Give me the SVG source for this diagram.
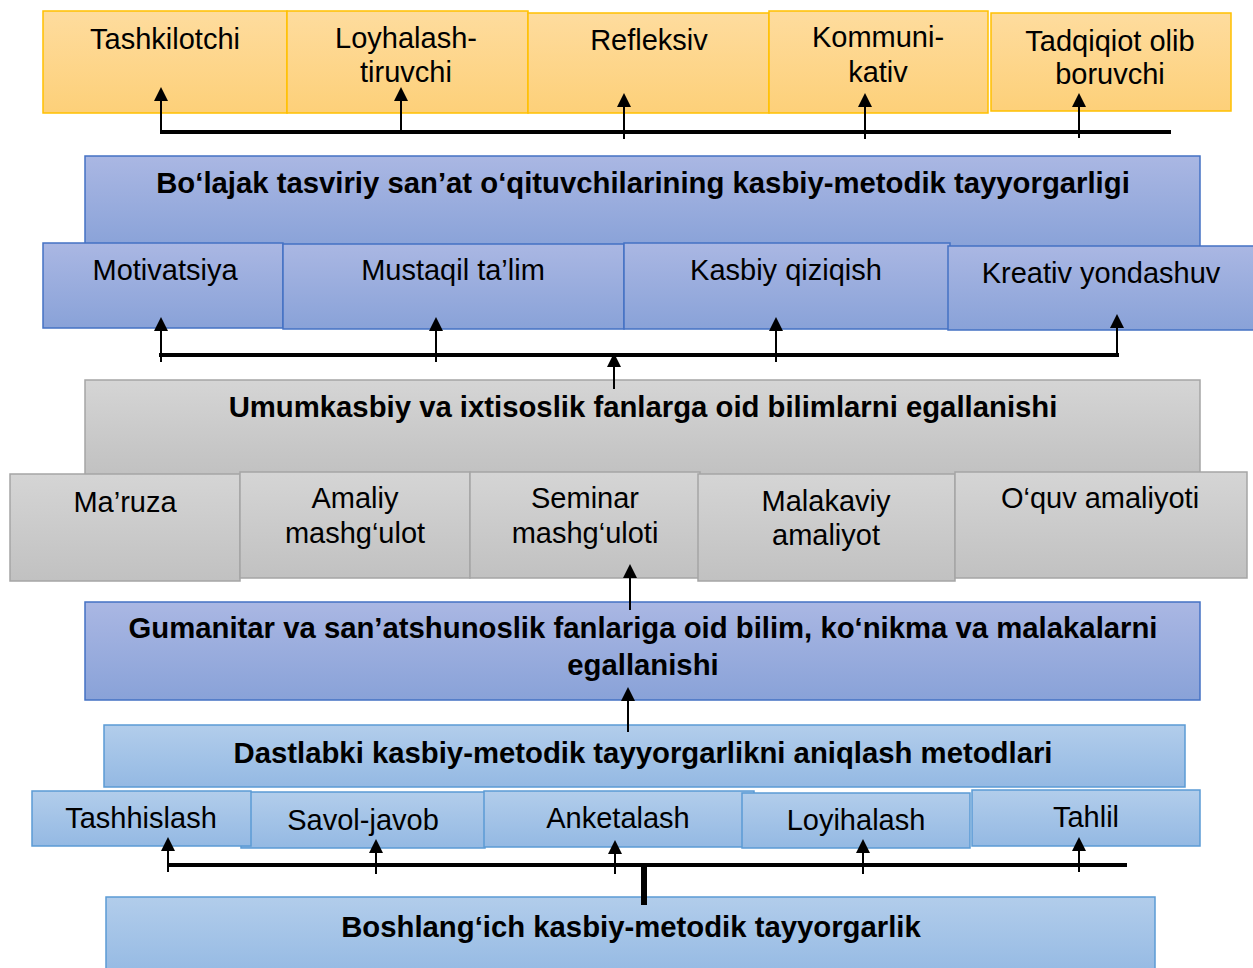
<svg xmlns="http://www.w3.org/2000/svg" width="1253" height="968" viewBox="0 0 1253 968">
<defs>
<linearGradient id="gOr" x1="0" y1="0" x2="0" y2="1"><stop offset="0" stop-color="#FEDC9E"/><stop offset="1" stop-color="#FDD079"/></linearGradient>
<linearGradient id="gBl" x1="0" y1="0" x2="0" y2="1"><stop offset="0" stop-color="#AAB7E3"/><stop offset="1" stop-color="#89A2D8"/></linearGradient>
<linearGradient id="gGr" x1="0" y1="0" x2="0" y2="1"><stop offset="0" stop-color="#D5D5D5"/><stop offset="1" stop-color="#C1C1C1"/></linearGradient>
<linearGradient id="gLb" x1="0" y1="0" x2="0" y2="1"><stop offset="0" stop-color="#B2CDEB"/><stop offset="1" stop-color="#94B9E3"/></linearGradient>
<marker id="ah" markerUnits="userSpaceOnUse" markerWidth="14" markerHeight="14" viewBox="0 0 14 14" refX="0" refY="7" orient="auto"><path d="M0,0 L14,7 L0,14 z" fill="#000"/></marker>
</defs>
<style>
.or{fill:url(#gOr);stroke:#FFC000;stroke-width:1.5}
.bl{fill:url(#gBl);stroke:#4472C4;stroke-width:1.5}
.gr{fill:url(#gGr);stroke:#A5A5A5;stroke-width:1.5}
.lb{fill:url(#gLb);stroke:#5B9BD5;stroke-width:1.5}
text{font-family:"Liberation Sans",Arial,sans-serif;font-size:29px;fill:#000;text-anchor:middle}
.b{font-weight:bold;font-size:29.3px}
.h{stroke:#000;stroke-width:4;fill:none}
.a{stroke:#000;stroke-width:2;fill:none;marker-end:url(#ah)}
</style>
<rect width="1253" height="968" fill="#fff"/>
<g id="n-tashkilotchi"><rect class="or" x="43" y="11" width="244" height="102"/><text x="165" y="49">Tashkilotchi</text></g>
<g id="n-loyhalash"><rect class="or" x="287" y="11" width="241" height="102"/><text x="406" y="48">Loyhalash-</text><text x="406" y="82">tiruvchi</text></g>
<g id="n-refleksiv"><rect class="or" x="528" y="13" width="241" height="100"/><text x="649" y="50">Refleksiv</text></g>
<g id="n-kommunikativ"><rect class="or" x="769" y="11" width="219" height="102"/><text x="878" y="47">Kommuni-</text><text x="878" y="82">kativ</text></g>
<g id="n-tadqiqiot"><rect class="or" x="991" y="13" width="240" height="98"/><text x="1110" y="51">Tadqiqiot olib</text><text x="1110" y="84">boruvchi</text></g>
<g id="n-bolajak"><rect class="bl" x="85" y="156" width="1115" height="92"/><text class="b" x="643" y="193">Bo‘lajak tasviriy san’at o‘qituvchilarining kasbiy-metodik tayyorgarligi</text></g>
<g id="n-motivatsiya"><rect class="bl" x="43" y="243" width="240" height="85"/><text x="165" y="280">Motivatsiya</text></g>
<g id="n-mustaqil"><rect class="bl" x="283" y="244" width="341" height="85"/><text x="453" y="280">Mustaqil ta’lim</text></g>
<g id="n-kasbiy"><rect class="bl" x="624" y="243" width="326" height="86"/><text x="786" y="280">Kasbiy qiziqish</text></g>
<g id="n-kreativ"><rect class="bl" x="948" y="246" width="312" height="84"/><text x="1101" y="283">Kreativ yondashuv</text></g>
<g id="n-umumkasbiy"><rect class="gr" x="85" y="380" width="1115" height="95"/><text class="b" x="643" y="417">Umumkasbiy va ixtisoslik fanlarga oid bilimlarni egallanishi</text></g>
<g id="n-maruza"><rect class="gr" x="10" y="474" width="230" height="107"/><text x="125" y="512">Ma’ruza</text></g>
<g id="n-amaliy"><rect class="gr" x="240" y="472" width="230" height="106"/><text x="355" y="508">Amaliy</text><text x="355" y="543">mashg‘ulot</text></g>
<g id="n-seminar"><rect class="gr" x="470" y="472" width="230" height="106"/><text x="585" y="508">Seminar</text><text x="585" y="543">mashg‘uloti</text></g>
<g id="n-malakaviy"><rect class="gr" x="698" y="474" width="257" height="107"/><text x="826" y="511">Malakaviy</text><text x="826" y="545">amaliyot</text></g>
<g id="n-oquv"><rect class="gr" x="955" y="472" width="292" height="106"/><text x="1100" y="508">O‘quv amaliyoti</text></g>
<g id="n-gumanitar"><rect class="bl" x="85" y="602" width="1115" height="98"/><text class="b" x="643" y="638">Gumanitar va san’atshunoslik fanlariga oid bilim, ko‘nikma va malakalarni</text><text class="b" x="643" y="675">egallanishi</text></g>
<g id="n-dastlabki"><rect class="lb" x="104" y="725" width="1081" height="62"/><text class="b" x="643" y="763">Dastlabki kasbiy-metodik tayyorgarlikni aniqlash metodlari</text></g>
<g id="n-savol"><rect class="lb" x="241" y="792" width="244" height="56"/><text x="363" y="830">Savol-javob</text></g>
<g id="n-tashhislash"><rect class="lb" x="32" y="791" width="219" height="55"/><text x="141" y="828">Tashhislash</text></g>
<g id="n-anketalash"><rect class="lb" x="484" y="791" width="270" height="56"/><text x="618" y="828">Anketalash</text></g>
<g id="n-loyihalash"><rect class="lb" x="742" y="793" width="228" height="55"/><text x="856" y="830">Loyihalash</text></g>
<g id="n-tahlil"><rect class="lb" x="972" y="790" width="228" height="56"/><text x="1086" y="827">Tahlil</text></g>
<g id="n-boshlangich"><rect class="lb" x="106" y="897" width="1049" height="80"/><text class="b" x="631" y="937">Boshlang‘ich kasbiy-metodik tayyorgarlik</text></g>
<g id="connectors">
<line class="h" x1="161" y1="132" x2="1171" y2="132"/>
<line class="a" x1="161" y1="134" x2="161" y2="101"/>
<line class="a" x1="401" y1="132" x2="401" y2="101"/>
<line class="a" x1="624" y1="139" x2="624" y2="107"/>
<line class="a" x1="865" y1="139" x2="865" y2="107"/>
<line class="a" x1="1079" y1="138" x2="1079" y2="107"/>
<line class="h" x1="159" y1="355" x2="1119" y2="355"/>
<line class="a" x1="161" y1="362" x2="161" y2="331"/>
<line class="a" x1="436" y1="362" x2="436" y2="331"/>
<line class="a" x1="776" y1="362" x2="776" y2="331"/>
<line class="a" x1="1117" y1="357" x2="1117" y2="328"/>
<line class="a" x1="614" y1="389" x2="614" y2="367"/>
<line class="a" x1="630" y1="610" x2="630" y2="578"/>
<line class="a" x1="628" y1="732" x2="628" y2="701"/>
<line class="h" x1="168" y1="865" x2="1127" y2="865"/>
<line class="a" x1="168" y1="872" x2="168" y2="851"/>
<line class="a" x1="376" y1="874" x2="376" y2="853"/>
<line class="a" x1="615" y1="874" x2="615" y2="854"/>
<line class="a" x1="863" y1="874" x2="863" y2="853"/>
<line class="a" x1="1079" y1="872" x2="1079" y2="851"/>
<line stroke="#000" stroke-width="6" x1="644" y1="867" x2="644" y2="905"/>
</g>
</svg>
